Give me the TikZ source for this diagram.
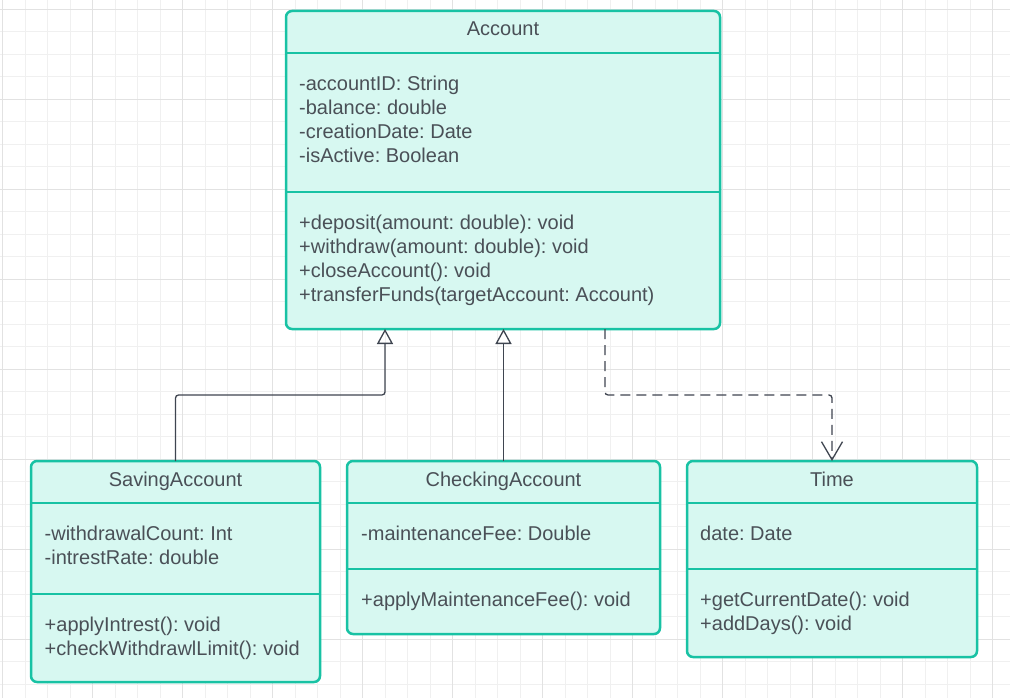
\documentclass[tikz,border=0pt]{standalone}
\usepackage{fontspec}
\setmainfont{Liberation Sans}
\usetikzlibrary{arrows.meta}
\definecolor{umlborder}{HTML}{18C2A4}
\definecolor{umlfill}{HTML}{D7F8F1}
\definecolor{umltext}{HTML}{4A5057}
\definecolor{umlline}{HTML}{3F4550}
\definecolor{gridminor}{HTML}{F0F0F0}
\definecolor{gridmajor}{HTML}{E2E2E2}
\frenchspacing
\begin{document}
\begin{tikzpicture}[x=1pt,y=-1pt]
  \tikzstyle{classbox}=[draw=umlborder,fill=umlfill,line width=2.5pt,rounded corners=6pt,inner sep=0pt,outer sep=0pt]
  \tikzstyle{sep}=[draw=umlborder,line width=2.5pt]
  \tikzstyle{title}=[text=umltext,font=\fontsize{20}{24}\selectfont,anchor=base,inner sep=0pt]
  \tikzstyle{members}=[text=umltext,font=\fontsize{20}{24}\selectfont,anchor=north west,align=left,inner sep=0pt]
  \tikzstyle{gen}=[draw=umlline,line width=1.3pt,rounded corners=3pt,-{Triangle[open,length=15pt,width=16pt]}]
  \tikzstyle{dep}=[draw=umlline,line width=1.3pt,rounded corners=3pt,dash pattern=on 10pt off 6pt,-{Straight Barb[length=18pt,width=21pt]}]
  % background grid
  \useasboundingbox (0,0) rectangle (1010,698);
  \fill[white] (0,0) rectangle (1010,698);
  \foreach \gx in {2.7,25.2,...,1010} \draw[gridminor,line width=1pt] (\gx,0) -- (\gx,698);
  \foreach \gy in {9.3,31.8,...,698} \draw[gridminor,line width=1pt] (0,\gy) -- (1010,\gy);
  \foreach \gx in {2.7,92.7,...,1010} \draw[gridmajor,line width=1pt] (\gx,0) -- (\gx,698);
  \foreach \gy in {9.3,99.3,...,698} \draw[gridmajor,line width=1pt] (0,\gy) -- (1010,\gy);

  % classes
  \node[classbox,minimum width=434pt,minimum height=318pt] (acc) at (503,170) {};
  \draw[sep] ([yshift=-42pt]acc.north west) -- ([yshift=-42pt]acc.north east);
  \draw[sep] ([yshift=-181pt]acc.north west) -- ([yshift=-181pt]acc.north east);
  \node[title] (acctitle) at (503,35.7) {Account};
  \node[members] (accattr) at (299,73.7) {\strut-accountID: String\\-balance: double\\-creationDate: Date\\-isActive: Boolean};
  \node[members] (accops) at (299,212.7) {\strut+deposit(amount: double): void\\+withdraw(amount: double): void\\+closeAccount(): void\\+transferFunds(targetAccount: Account)};

  \node[classbox,minimum width=289pt,minimum height=221pt] (sav) at (175.5,571.5) {};
  \draw[sep] ([yshift=-42pt]sav.north west) -- ([yshift=-42pt]sav.north east);
  \draw[sep] ([yshift=-133pt]sav.north west) -- ([yshift=-133pt]sav.north east);
  \node[title] (savtitle) at (175.5,486) {SavingAccount};
  \node[members] (savattr) at (44.5,523.2) {\strut-withdrawalCount: Int\\-intrestRate: double};
  \node[members] (savops) at (44.5,614.2) {\strut+applyIntrest(): void\\+checkWithdrawlLimit(): void};

  \node[classbox,minimum width=313pt,minimum height=173pt] (chk) at (503.5,547.5) {};
  \draw[sep] ([yshift=-42pt]chk.north west) -- ([yshift=-42pt]chk.north east);
  \draw[sep] ([yshift=-108pt]chk.north west) -- ([yshift=-108pt]chk.north east);
  \node[title] (chktitle) at (503.5,486) {CheckingAccount};
  \node[members] (chkattr) at (361,523.2) {\strut-maintenanceFee: Double};
  \node[members] (chkops) at (361,589.9) {\strut+applyMaintenanceFee(): void};

  \node[classbox,minimum width=290pt,minimum height=196pt] (tim) at (832,559) {};
  \draw[sep] ([yshift=-42pt]tim.north west) -- ([yshift=-42pt]tim.north east);
  \draw[sep] ([yshift=-108pt]tim.north west) -- ([yshift=-108pt]tim.north east);
  \node[title] (timtitle) at (832,486) {Time};
  \node[members] (timattr) at (700,523.2) {\strut date: Date};
  \node[members] (timops) at (700,589.9) {\strut+getCurrentDate(): void\\+addDays(): void};

  % relations
  \coordinate (savbend) at (385,395);
  \coordinate (depbend) at (605,395);
  \draw[gen] (sav.north) |- (savbend) -- (acc.south -| savbend);
  \draw[gen] (chk.north) -- (chk.north |- acc.south);
  \draw[dep] (acc.south -| depbend) -- (depbend) -| (tim.north);
\end{tikzpicture}
\end{document}
